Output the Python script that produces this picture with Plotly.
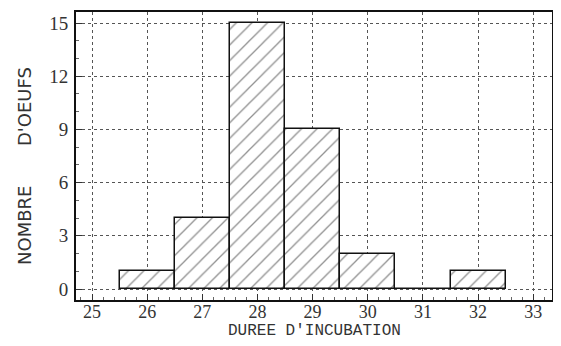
import plotly.graph_objects as go

durees = [26, 27, 28, 29, 30, 31, 32]
nombres = [1, 4, 15, 9, 2, 0, 1]
x_ticks = [25, 26, 27, 28, 29, 30, 31, 32, 33]
y_ticks = [0, 3, 6, 9, 12, 15]

# page body adds an 8px offset; compensate in margins
OFF = 8
L, T, R, B = 76 - OFF, 12 - OFF, 9 + OFF, 46 + OFF
W, H = 561, 346

fig = go.Figure()
fig.add_trace(go.Bar(
    x=durees, y=nombres, width=1,
    marker=dict(color="white", line=dict(color="#111", width=1.5),
                pattern=dict(shape="/", fgcolor="#222", bgcolor="white", size=11, solidity=0.12)),
    showlegend=False,
))

fig.update_layout(
    width=W, height=H,
    margin=dict(l=L, r=R, t=T, b=B),
    paper_bgcolor="white", plot_bgcolor="white",
    bargap=0,
    xaxis=dict(range=[24.71, 33.34], tickvals=x_ticks, ticktext=[str(v) for v in x_ticks],
               showgrid=True, gridcolor="#555", griddash="dot", gridwidth=1,
               zeroline=False, showline=True, linecolor="#111", linewidth=2, mirror=True,
               ticks="inside", ticklen=6, tickcolor="#333",
               minor=dict(dtick=0.2, ticks="inside", ticklen=3, tickcolor="#666", showgrid=False),
               tickfont=dict(family="Liberation Serif", size=18, color="#333"),
               ticklabelstandoff=-6, automargin=False),
    yaxis=dict(range=[-0.62, 15.62], tickvals=y_ticks, ticktext=[str(v) for v in y_ticks],
               showgrid=True, gridcolor="#555", griddash="dot", gridwidth=1,
               zeroline=False, showline=True, linecolor="#111", linewidth=2, mirror=True,
               ticks="inside", ticklen=6, tickcolor="#333",
               minor=dict(dtick=1, ticks="inside", ticklen=3, tickcolor="#666", showgrid=False),
               tickfont=dict(family="Liberation Serif", size=19, color="#333"),
               ticklabelstandoff=2, automargin=False),
)

pw, ph = W - L - R, H - T - B
labels = [
    ("DUREE D'INCUBATION", 314, 331, 0, dict(family="Liberation Mono", size=16, color="#333")),
    ("NOMBRE", 24, 226, -90, dict(family="DejaVu Sans", size=18, color="#333")),
    ("D'OEUFS", 24, 107, -90, dict(family="DejaVu Sans", size=18, color="#333")),
]
anns = []
for text, px, py, ang, font in labels:
    anns.append(dict(text=text, xref="paper", yref="paper",
                     x=(px - OFF - L) / pw, y=1 - (py - OFF - T) / ph,
                     xanchor="center", yanchor="middle", textangle=ang,
                     showarrow=False, font=font))
fig.update_layout(annotations=anns)

fig.write_html("out.html")
